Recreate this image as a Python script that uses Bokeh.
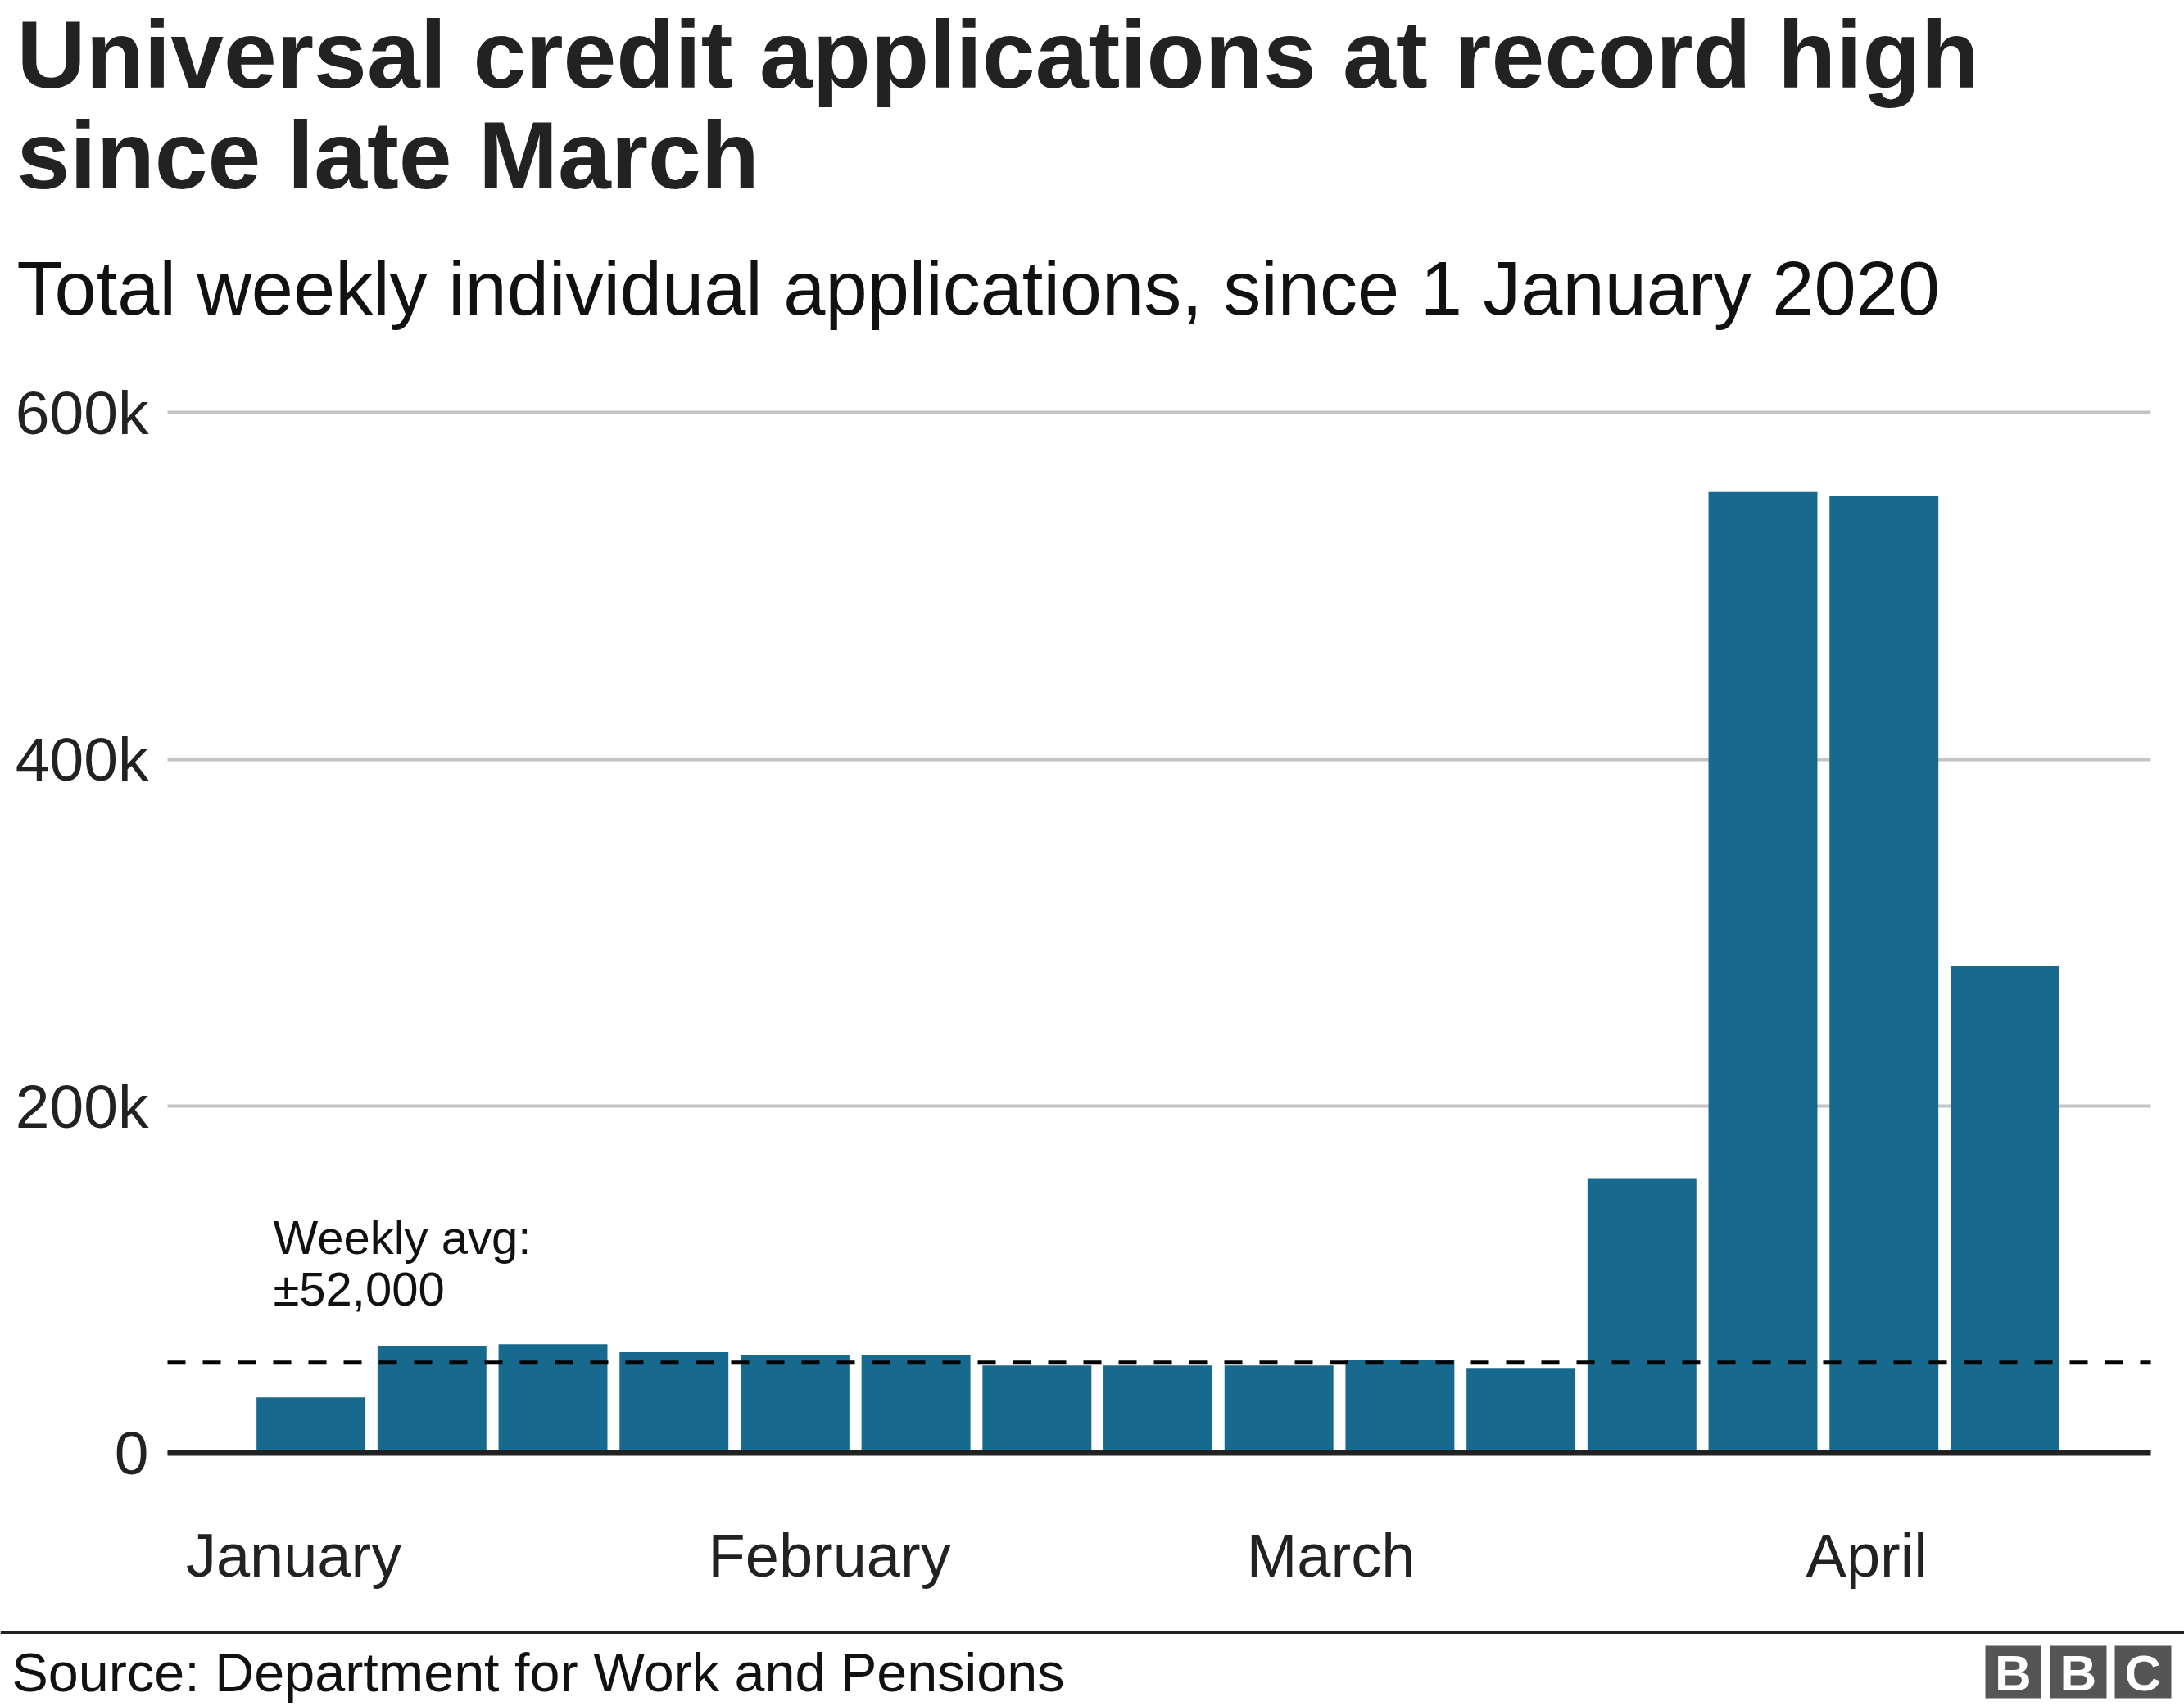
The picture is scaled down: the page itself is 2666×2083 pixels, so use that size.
import pandas as pd
from bokeh.plotting import figure
from bokeh.models import Range1d, FixedTicker, Label, BoxAnnotation
from bokeh.embed import file_html
from bokeh.resources import INLINE

# ---- data ----
week_dates = ["2020-01-02", "2020-01-09", "2020-01-16", "2020-01-23", "2020-01-30",
              "2020-02-06", "2020-02-13", "2020-02-20", "2020-02-27",
              "2020-03-05", "2020-03-12", "2020-03-19", "2020-03-26",
              "2020-04-02", "2020-04-09"]
applications = [32000, 61700, 62700, 58000, 56300, 56300, 50400, 50400, 50400,
                53600, 49000, 158400, 554200, 552200, 280500]
month_starts = ["2020-01-01", "2020-02-01", "2020-03-01", "2020-04-01"]
month_labels = ["January", "February", "March", "April"]
y_ticks = [0, 200000, 400000, 600000]
y_tick_labels = ["0", "200k", "400k", "600k"]
weekly_avg = 52000

title_lines = ["Universal credit applications at record high", "since late March"]
subtitle = "Total weekly individual applications, since 1 January 2020"
avg_lines = ["Weekly avg:", "\u00b152,000"]
source = "Source: Department for Work and Pensions"
logo_letters = ["B", "B", "C"]

origin = pd.Timestamp("2020-01-01")
week_days = [int((pd.Timestamp(d) - origin).days) for d in week_dates]
month_days = [int((pd.Timestamp(d) - origin).days) for d in month_starts]

# ---- geometry (canvas pixels) ----
FONT = "Liberation Sans"
W, H = 2666, 2083
CH_L, CH_R = 204, 2625            # chart area left / right
X_LEFT, X_RIGHT = -7.30, 107.44   # days shown across the chart area
PX_DAY = (CH_R - CH_L) / (X_RIGHT - X_LEFT)
ZERO_Y = 1773.4                   # canvas y of value 0
PX_UNIT = 423.4 / 200000          # pixels per application
BASE_FIX = 0.345                  # baseline correction (fraction of font size)

x_start = X_LEFT - CH_L / PX_DAY
x_end = x_start + W / PX_DAY
y_start = -(H - ZERO_Y) / PX_UNIT
y_end = ZERO_Y / PX_UNIT

p = figure(width=W, height=H, output_backend="svg", toolbar_location=None,
           x_range=Range1d(x_start, x_end), y_range=Range1d(y_start, y_end),
           min_border=0)
p.outline_line_color = None
p.background_fill_color = "white"
p.border_fill_color = "white"

GRID_COLOR, GRID_W = "#c4c4c4", 4
p.xgrid.grid_line_color = None
p.ygrid.ticker = FixedTicker(ticks=y_ticks, minor_ticks=[])
p.ygrid.grid_line_color = GRID_COLOR
p.ygrid.grid_line_width = GRID_W
try:
    p.ygrid.cross_bounds = (X_LEFT, X_RIGHT)
except Exception:
    p.ygrid.grid_line_color = None
    p.segment(x0=[X_LEFT] * len(y_ticks), x1=[X_RIGHT] * len(y_ticks),
              y0=y_ticks, y1=y_ticks, line_color=GRID_COLOR, line_width=GRID_W)

ya = p.yaxis[0]
ya.fixed_location = X_LEFT
ya.ticker = FixedTicker(ticks=y_ticks, minor_ticks=[])
ya.major_label_overrides = dict(zip(y_ticks, y_tick_labels))
ya.axis_line_color = None
ya.major_tick_line_color = None
ya.minor_tick_line_color = None
ya.major_label_standoff = 17
ya.major_label_text_font = FONT
ya.major_label_text_font_size = "75px"
ya.major_label_text_color = "#222222"

xa = p.xaxis[0]
xa.fixed_location = 0
xa.ticker = FixedTicker(ticks=month_days, minor_ticks=[])
xa.major_label_overrides = dict(zip(month_days, month_labels))
xa.axis_line_color = None
xa.major_tick_line_color = None
xa.minor_tick_line_color = None
xa.major_label_standoff = 78
xa.major_label_text_font = FONT
xa.major_label_text_font_size = "74px"
xa.major_label_text_color = "#222222"

p.vbar(x=week_days, top=applications, bottom=0, width=6.3,
       fill_color="#176a8e", line_color=None)

# zero baseline and weekly-average reference line across the chart area
p.segment(x0=[X_LEFT], x1=[X_RIGHT], y0=[0], y1=[0], line_color="#222222", line_width=7)
p.segment(x0=[X_LEFT], x1=[X_RIGHT], y0=[weekly_avg], y1=[weekly_avg],
          line_color="#000000", line_width=5, line_dash="22 21")


def lab(text, cx, cy, size, bold=False, color="#222222", align="left"):
    p.add_layout(Label(x=cx, y=H - cy + BASE_FIX * size, x_units="screen", y_units="screen",
                       text=text, text_font=FONT, text_font_size=f"{size}px",
                       text_font_style="bold" if bold else "normal",
                       text_color=color, text_align=align, text_baseline="alphabetic"))


def box(l, r, t, b, color):
    p.add_layout(BoxAnnotation(left=l, right=r, top=H - t, bottom=H - b,
                               left_units="screen", right_units="screen",
                               top_units="screen", bottom_units="screen",
                               fill_color=color, fill_alpha=1.0, line_color=None,
                               line_alpha=0))


lab(title_lines[0], 20, 107, 116.5, bold=True)
lab(title_lines[1], 20, 230, 116.5, bold=True)
lab(subtitle, 20, 383, 92, color="#111111")
lab(avg_lines[0], 333, 1530, 58, color="#111111")
lab(avg_lines[1], 333, 1593, 58, color="#111111")
lab(source, 14, 2064, 66.5, color="#111111")

box(0, W, 1991.5, 1994.5, "#222222")
blocks_l = [2423, 2502, 2581]
blocks_r = [2491, 2571, 2650]
for l, r, letter in zip(blocks_l, blocks_r, logo_letters):
    box(l, r, 2009, 2073, "#555555")
    lab(letter, (l + r) / 2, 2063, 62, bold=True, color="#ffffff", align="center")

open("out.html", "w").write(file_html(p, INLINE))
